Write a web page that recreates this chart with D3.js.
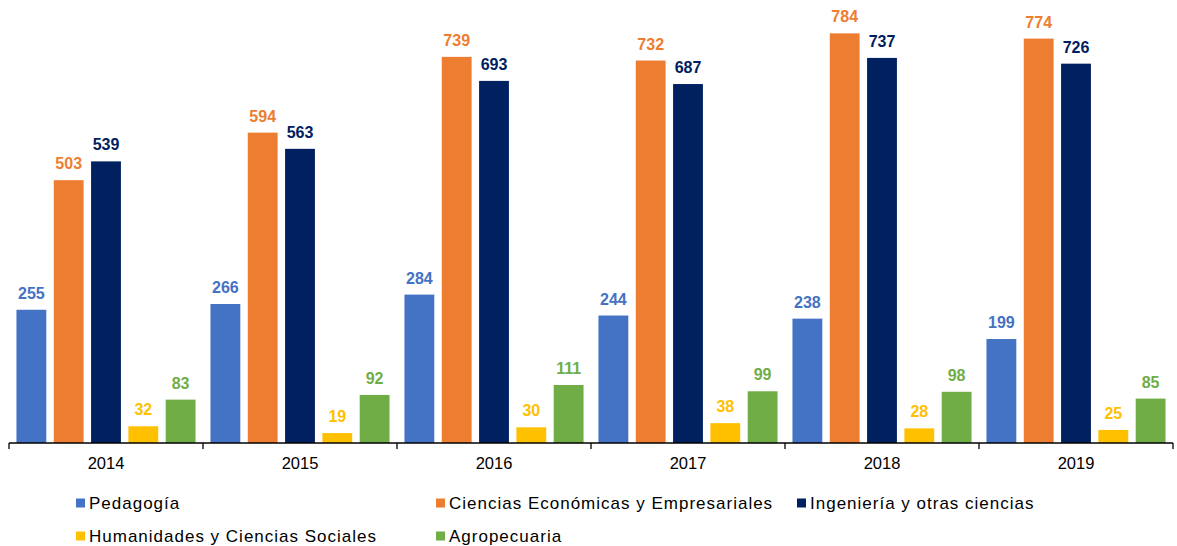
<!DOCTYPE html>
<html><head><meta charset="utf-8">
<script src="https://cdn.jsdelivr.net/npm/d3@7"></script>
<style>body{margin:0;background:#fff;} svg{display:block;font-family:"Liberation Sans",Arial,sans-serif;}</style>
</head><body>
<svg id="c" width="1177" height="546"></svg>
<script>
const years = ["2014","2015","2016","2017","2018","2019"];
const seriesNames = ["Pedagogía","Ciencias Económicas y Empresariales","Ingeniería y otras ciencias","Humanidades y Ciencias Sociales","Agropecuaria"];
const colors = ["#4472C4","#ED7D31","#002060","#FFC000","#70AD47"];
const pedagogia = [255,266,284,244,238,199];
const economicas = [503,594,739,732,784,774];
const ingenieria = [539,563,693,687,737,726];
const humanidades = [32,19,30,38,28,25];
const agropecuaria = [83,92,111,99,98,85];
const seriesValues = [pedagogia, economicas, ingenieria, humanidades, agropecuaria];

const svg = d3.select("#c");
const x0 = d3.scaleBand().domain(years).range([9,1173]).padding(0);
const x1 = d3.scaleBand().domain(d3.range(seriesNames.length)).range([0, x0.bandwidth()]).paddingInner(0.2).paddingOuter(0.2);
const y = d3.scaleLinear().domain([0,800]).range([443, 25]);

const g = svg.append("g");
years.forEach((yr, i) => {
  seriesValues.forEach((vals, s) => {
    const v = vals[i];
    const bx = x0(yr) + x1(s);
    g.append("rect").attr("x", bx).attr("y", y(v)).attr("width", x1.bandwidth()).attr("height", y(0)-y(v)).attr("fill", colors[s]);
    g.append("text").attr("x", bx + x1.bandwidth()/2).attr("y", y(v) - 11)
      .attr("text-anchor","middle").attr("font-size","16px").attr("font-weight","bold")
      .attr("fill", colors[s]).text(v);
  });
});

// axis
const ax = svg.append("g").attr("transform","translate(0,443)");
ax.append("line").attr("x1",9).attr("x2",1173).attr("y1",0).attr("y2",0).attr("stroke","#000").attr("stroke-width",1.3);
const bounds = years.map(d=>x0(d)).concat([x0(years[years.length-1])+x0.bandwidth()]);
bounds.forEach(b => ax.append("line").attr("x1",b).attr("x2",b).attr("y1",0).attr("y2",6).attr("stroke","#000").attr("stroke-width",1.3));
years.forEach(yr => ax.append("text").attr("x", x0(yr)+x0.bandwidth()/2).attr("y", 26).attr("text-anchor","middle").attr("font-size","16.5px").attr("fill","#000").text(yr));

// legend
const legPos = [[76,503],[436,503],[797,503],[76,536],[436,536]];
seriesNames.forEach((n, s) => {
  const [lx, ly] = legPos[s];
  svg.append("rect").attr("x", lx).attr("y", ly-4.5).attr("width",9).attr("height",9).attr("fill", colors[s]);
  svg.append("text").attr("x", lx+13).attr("y", ly+6).attr("font-size","17px").attr("letter-spacing","1px").attr("fill","#000").text(n);
});
</script>
</body></html>
